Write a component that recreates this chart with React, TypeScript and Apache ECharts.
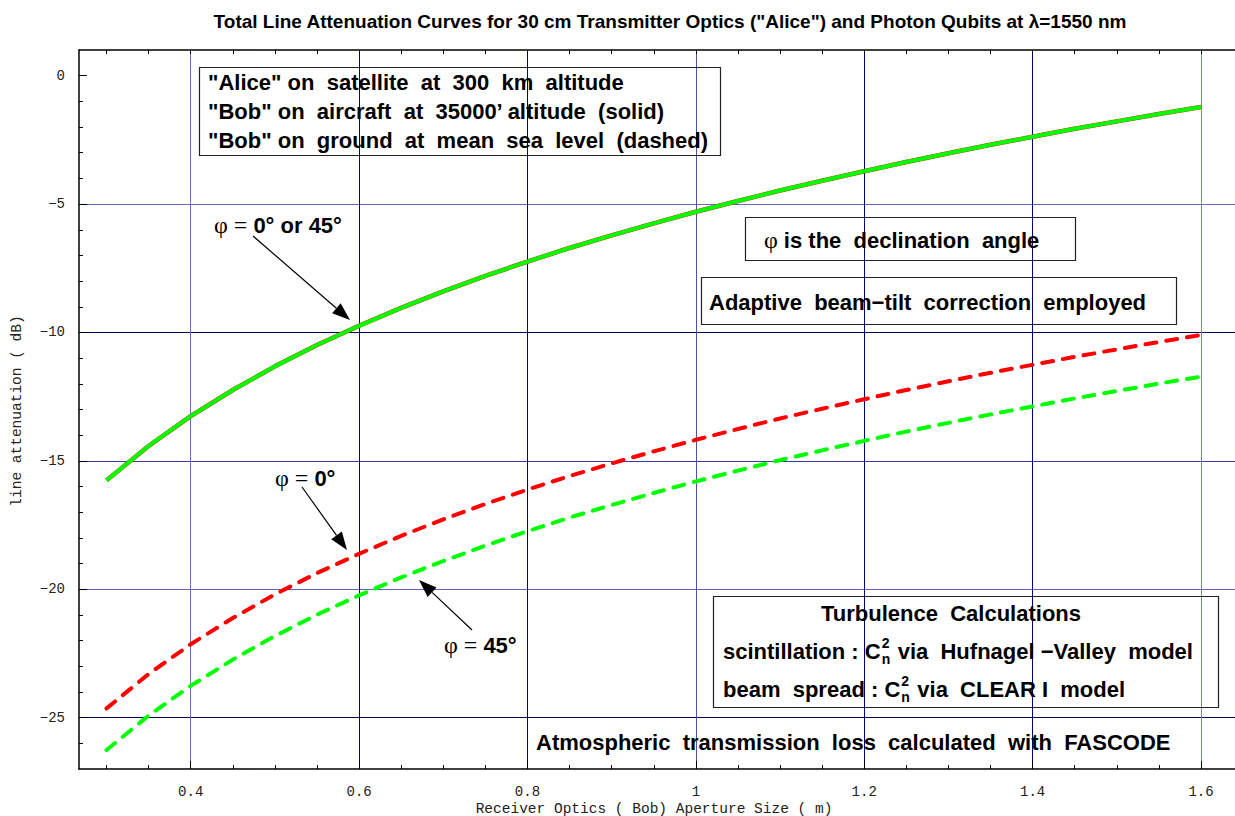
import React, { useEffect, useRef } from 'react';
import * as echarts from 'echarts';

// Receiver (Bob) aperture size, m
const apertureM = [0.3, 0.35, 0.4, 0.45, 0.5, 0.55, 0.6, 0.65, 0.7, 0.75, 0.8, 0.85, 0.9, 0.95, 1.0, 1.05, 1.1, 1.15, 1.2, 1.25, 1.3, 1.35, 1.4, 1.45, 1.5, 1.55, 1.6];
// Bob on aircraft (solid) - phi = 0 deg and phi = 45 deg coincide
const aircraft0Db = [-15.76, -14.42, -13.26, -12.24, -11.32, -10.49, -9.74, -9.04, -8.4, -7.8, -7.24, -6.71, -6.22, -5.75, -5.3, -4.88, -4.47, -4.09, -3.72, -3.36, -3.02, -2.69, -2.38, -2.07, -1.78, -1.49, -1.22];
const aircraft45Db = [-15.76, -14.42, -13.26, -12.24, -11.32, -10.49, -9.74, -9.04, -8.4, -7.8, -7.24, -6.71, -6.22, -5.75, -5.3, -4.88, -4.47, -4.09, -3.72, -3.36, -3.02, -2.69, -2.38, -2.07, -1.78, -1.49, -1.22];
// Bob on ground (dashed)
const ground0Db = [-24.64, -23.3, -22.14, -21.12, -20.2, -19.37, -18.62, -17.92, -17.28, -16.68, -16.12, -15.59, -15.1, -14.63, -14.18, -13.76, -13.35, -12.97, -12.6, -12.24, -11.9, -11.57, -11.26, -10.95, -10.66, -10.37, -10.1];
const ground45Db = [-26.26, -24.92, -23.76, -22.74, -21.82, -20.99, -20.24, -19.54, -18.9, -18.3, -17.74, -17.21, -16.72, -16.25, -15.8, -15.38, -14.97, -14.59, -14.22, -13.86, -13.52, -13.19, -12.88, -12.57, -12.28, -11.99, -11.72];

const xMajorTicks = [0.4, 0.6, 0.8, 1.0, 1.2, 1.4, 1.6];
const xMinorTicks = [0.3, 0.35, 0.45, 0.5, 0.55, 0.65, 0.7, 0.75, 0.85, 0.9, 0.95, 1.05, 1.1, 1.15, 1.25, 1.3, 1.35, 1.45, 1.5, 1.55];
const xTopTicks = [0.3, 0.35, 0.4, 0.45, 0.5, 0.55, 0.6, 0.65, 0.7, 0.75, 0.8, 0.85, 0.9, 0.95, 1.0, 1.05, 1.1, 1.15, 1.2, 1.25, 1.3, 1.35, 1.4, 1.45, 1.5, 1.55, 1.6];
const yMajorTicks = [-25, -20, -15, -10, -5, 0];
const yMinorTicks = [-26, -24, -23, -22, -21, -19, -18, -17, -16, -14, -13, -12, -11, -9, -8, -7, -6, -4, -3, -2, -1];

const X_MIN = 0.2673;
const X_MAX = 1.6404;
const Y_MIN = -27;
const Y_MAX = 1;

const SANS = '"Liberation Sans", Arial, sans-serif';
const SERIF = '"Liberation Serif", "Times New Roman", serif';
const MONO = '"Liberation Mono", "Courier New", monospace';
const FS = 22;

function measure(text: string, font: string): number {
  const c = document.createElement('canvas').getContext('2d');
  if (!c) return text.length * 10;
  c.font = font;
  return c.measureText(text).width;
}

function arrow(x1: number, y1: number, x2: number, y2: number) {
  const dx = x2 - x1;
  const dy = y2 - y1;
  const len = Math.sqrt(dx * dx + dy * dy);
  const ux = dx / len;
  const uy = dy / len;
  const hl = 18;
  const hw = 6.5;
  const bx = x2 - ux * hl;
  const by = y2 - uy * hl;
  const px = -uy;
  const py = ux;
  return [
    { type: 'line', shape: { x1, y1, x2: bx, y2: by }, style: { stroke: '#000', lineWidth: 1.2 }, z: 10 },
    {
      type: 'polygon',
      shape: { points: [[x2, y2], [bx + px * hw, by + py * hw], [bx - px * hw, by - py * hw]] },
      style: { fill: '#000' },
      z: 10,
    },
  ];
}

const boldFont = (s: number) => `bold ${s}px ${SANS}`;

function txt(text: string, x: number, y: number, size = FS, extra: any = {}) {
  return {
    type: 'text',
    x,
    y,
    z: 10,
    style: {
      text,
      fill: '#000',
      font: boldFont(size),
      verticalAlign: 'middle',
      align: 'left',
      ...extra,
    },
  };
}

function cn2Line(prefix: string, suffix: string, x: number, y: number) {
  const f = boldFont(FS);
  const w = measure(prefix, f);
  const items: any[] = [txt(prefix, x, y)];
  items.push(txt('n', x + w + 1, y + 8, 14));
  items.push(txt('2', x + w + 1, y - 8, 14));
  items.push(txt(suffix, x + w + 17, y));
  return items;
}

const phiRich = {
  p: { fontFamily: SERIF, fontSize: 24, fill: '#000' },
  b: { fontFamily: SANS, fontWeight: 'bold', fontSize: FS, fill: '#000' },
};

function phiLabel(bold: string, x: number, y: number) {
  return {
    type: 'text',
    x,
    y,
    z: 10,
    style: {
      text: `{p|φ = }{b|${bold}}`,
      rich: phiRich,
      verticalAlign: 'middle',
      align: 'left',
    },
  };
}

function box(x: number, y: number, w: number, h: number) {
  return {
    type: 'rect',
    z: 9,
    shape: { x: x + 0.5, y: y + 0.5, width: w, height: h },
    style: { fill: 'none', stroke: '#222', lineWidth: 1.2 },
  };
}

export default function App() {
  const ref = useRef<HTMLDivElement>(null);

  useEffect(() => {
    if (!ref.current) return;
    const chart = echarts.init(ref.current, undefined, { renderer: 'svg' });

    const pairs = (ys: number[]) => apertureM.map((x, i) => [x, ys[i]]);

    const graphics: any[] = [
      // title
      {
        type: 'text',
        x: 670,
        y: 21,
        style: {
          text: 'Total Line Attenuation Curves for 30 cm Transmitter Optics ("Alice") and Photon Qubits at λ=1550 nm',
          font: `bold 19px ${SANS}`,
          fill: '#000',
          align: 'center',
          verticalAlign: 'middle',
        },
      },
      // axis names
      {
        type: 'text',
        x: 654,
        y: 809,
        style: {
          text: 'Receiver Optics ( Bob) Aperture Size ( m)',
          font: `14.5px ${MONO}`,
          fill: '#222',
          align: 'center',
          verticalAlign: 'middle',
        },
      },
      {
        type: 'text',
        x: 17,
        y: 411,
        rotation: Math.PI / 2,
        style: {
          text: 'line attenuation ( dB)',
          font: `14.5px ${MONO}`,
          fill: '#222',
          align: 'center',
          verticalAlign: 'middle',
        },
      },
      // box 1
      box(199, 67, 521, 88),
      txt('"Alice" on  satellite  at  300  km  altitude', 208, 82),
      txt('"Bob" on  aircraft  at  35000\u2019 altitude  (solid)', 208, 111),
      txt('"Bob" on  ground  at  mean  sea  level  (dashed)', 208, 140),
      // box 2
      box(745, 217, 330, 43),
      {
        type: 'text',
        x: 764,
        y: 240,
        z: 10,
        style: {
          text: '{p|φ }{b|is the  declination  angle}',
          rich: phiRich,
          verticalAlign: 'middle',
          align: 'left',
        },
      },
      // box 3
      box(701, 277, 475, 47),
      txt('Adaptive  beam\u2212tilt  correction  employed', 709, 302),
      // box 4
      box(713, 596, 505, 111),
      txt('Turbulence  Calculations', 951, 613, FS, { align: 'center' }),
      ...cn2Line('scintillation : C', 'via  Hufnagel \u2212Valley  model', 723, 651),
      ...cn2Line('beam  spread : C', 'via  CLEAR I  model', 723, 689),
      // FASCODE
      txt('Atmospheric  transmission  loss  calculated  with  FASCODE', 536, 742),
      // phi labels + arrows
      phiLabel('0° or 45°', 214, 225),
      ...arrow(253, 236, 350, 320),
      phiLabel('0°', 275, 478),
      ...arrow(302, 487, 347, 550),
      phiLabel('45°', 444, 645),
      ...arrow(472, 630, 419, 580),
    ];

    const hidden = { show: false };

    const option: any = {
      animation: false,
      backgroundColor: '#fff',
      grid: {
        left: 79,
        top: 50,
        right: 0,
        bottom: 47,
        containLabel: false,
        outerBoundsMode: 'none',
      },
      xAxis: [
        {
          type: 'value',
          position: 'bottom',
          min: X_MIN,
          max: X_MAX,
          axisLine: { show: true, onZero: false, lineStyle: { color: '#000', width: 1.5 } },
          axisTick: { show: true, inside: true, length: 8, customValues: xMajorTicks, lineStyle: { color: '#000' } },
          axisLabel: {
            show: true,
            customValues: xMajorTicks,
            margin: 16,
            fontFamily: MONO,
            fontSize: 14,
            color: '#222',
            formatter: (v: number) => String(Math.round(v * 10) / 10),
          },
          splitLine: {
            show: true,
            lineStyle: {
              width: 1,
              color: ['#6c6cbc', '#000080', '#000080', '#5050a8', '#000080', '#000080', '#7c7cc6'],
            },
          },
        },
        {
          type: 'value',
          position: 'bottom',
          min: X_MIN,
          max: X_MAX,
          axisLine: { show: false, onZero: false },
          axisTick: { show: true, inside: true, length: 4, customValues: xMinorTicks, lineStyle: { color: '#000' } },
          axisLabel: hidden,
          splitLine: hidden,
        },
        {
          type: 'value',
          position: 'top',
          min: X_MIN,
          max: X_MAX,
          axisLine: { show: true, onZero: false, lineStyle: { color: '#000', width: 1.5 } },
          axisTick: { show: true, inside: true, length: 4, customValues: xTopTicks, lineStyle: { color: '#000' } },
          axisLabel: hidden,
          splitLine: hidden,
        },
      ],
      yAxis: [
        {
          type: 'value',
          position: 'left',
          min: Y_MIN,
          max: Y_MAX,
          axisLine: { show: true, onZero: false, lineStyle: { color: '#000', width: 1.5 } },
          axisTick: { show: true, inside: true, length: 8, customValues: yMajorTicks, lineStyle: { color: '#000' } },
          axisLabel: {
            show: true,
            customValues: yMajorTicks,
            margin: 14,
            fontFamily: MONO,
            fontSize: 14,
            color: '#222',
            formatter: (v: number) => (v < 0 ? '\u2212' + Math.abs(v) : String(v)),
          },
          splitLine: {
            show: true,
            lineStyle: {
              width: 1,
              color: ['#000050', '#6060b4', '#3a3aa0', '#000050', '#6868b8', 'rgba(0,0,0,0)'],
            },
          },
        },
        {
          type: 'value',
          position: 'left',
          min: Y_MIN,
          max: Y_MAX,
          axisLine: { show: false, onZero: false },
          axisTick: { show: true, inside: true, length: 4, customValues: yMinorTicks, lineStyle: { color: '#000' } },
          axisLabel: hidden,
          splitLine: hidden,
        },
      ],
      series: [
        {
          name: 'aircraft phi=0',
          type: 'line',
          xAxisIndex: 0,
          yAxisIndex: 0,
          data: pairs(aircraft0Db),
          showSymbol: false,
          lineStyle: { color: '#ff0000', width: 4.5 },
          z: 3,
        },
        {
          name: 'aircraft phi=45',
          type: 'line',
          xAxisIndex: 0,
          yAxisIndex: 0,
          data: pairs(aircraft45Db),
          showSymbol: false,
          lineStyle: { color: '#00ff00', width: 4 },
          z: 4,
        },
        {
          name: 'ground phi=0',
          type: 'line',
          xAxisIndex: 0,
          yAxisIndex: 0,
          data: pairs(ground0Db),
          showSymbol: false,
          lineStyle: { color: '#ff0000', width: 4, type: [11, 10], cap: 'round' },
          z: 3,
        },
        {
          name: 'ground phi=45',
          type: 'line',
          xAxisIndex: 0,
          yAxisIndex: 0,
          data: pairs(ground45Db),
          showSymbol: false,
          lineStyle: { color: '#00ff00', width: 4, type: [11, 10], cap: 'round' },
          z: 3,
        },
      ],
      graphic: graphics,
    };

    chart.setOption(option);
    return () => {
      chart.dispose();
    };
  }, []);

  return (
    <div
      ref={ref}
      style={{ position: 'absolute', left: 0, top: 0, width: 1235, height: 816, background: '#fff' }}
    />
  );
}
